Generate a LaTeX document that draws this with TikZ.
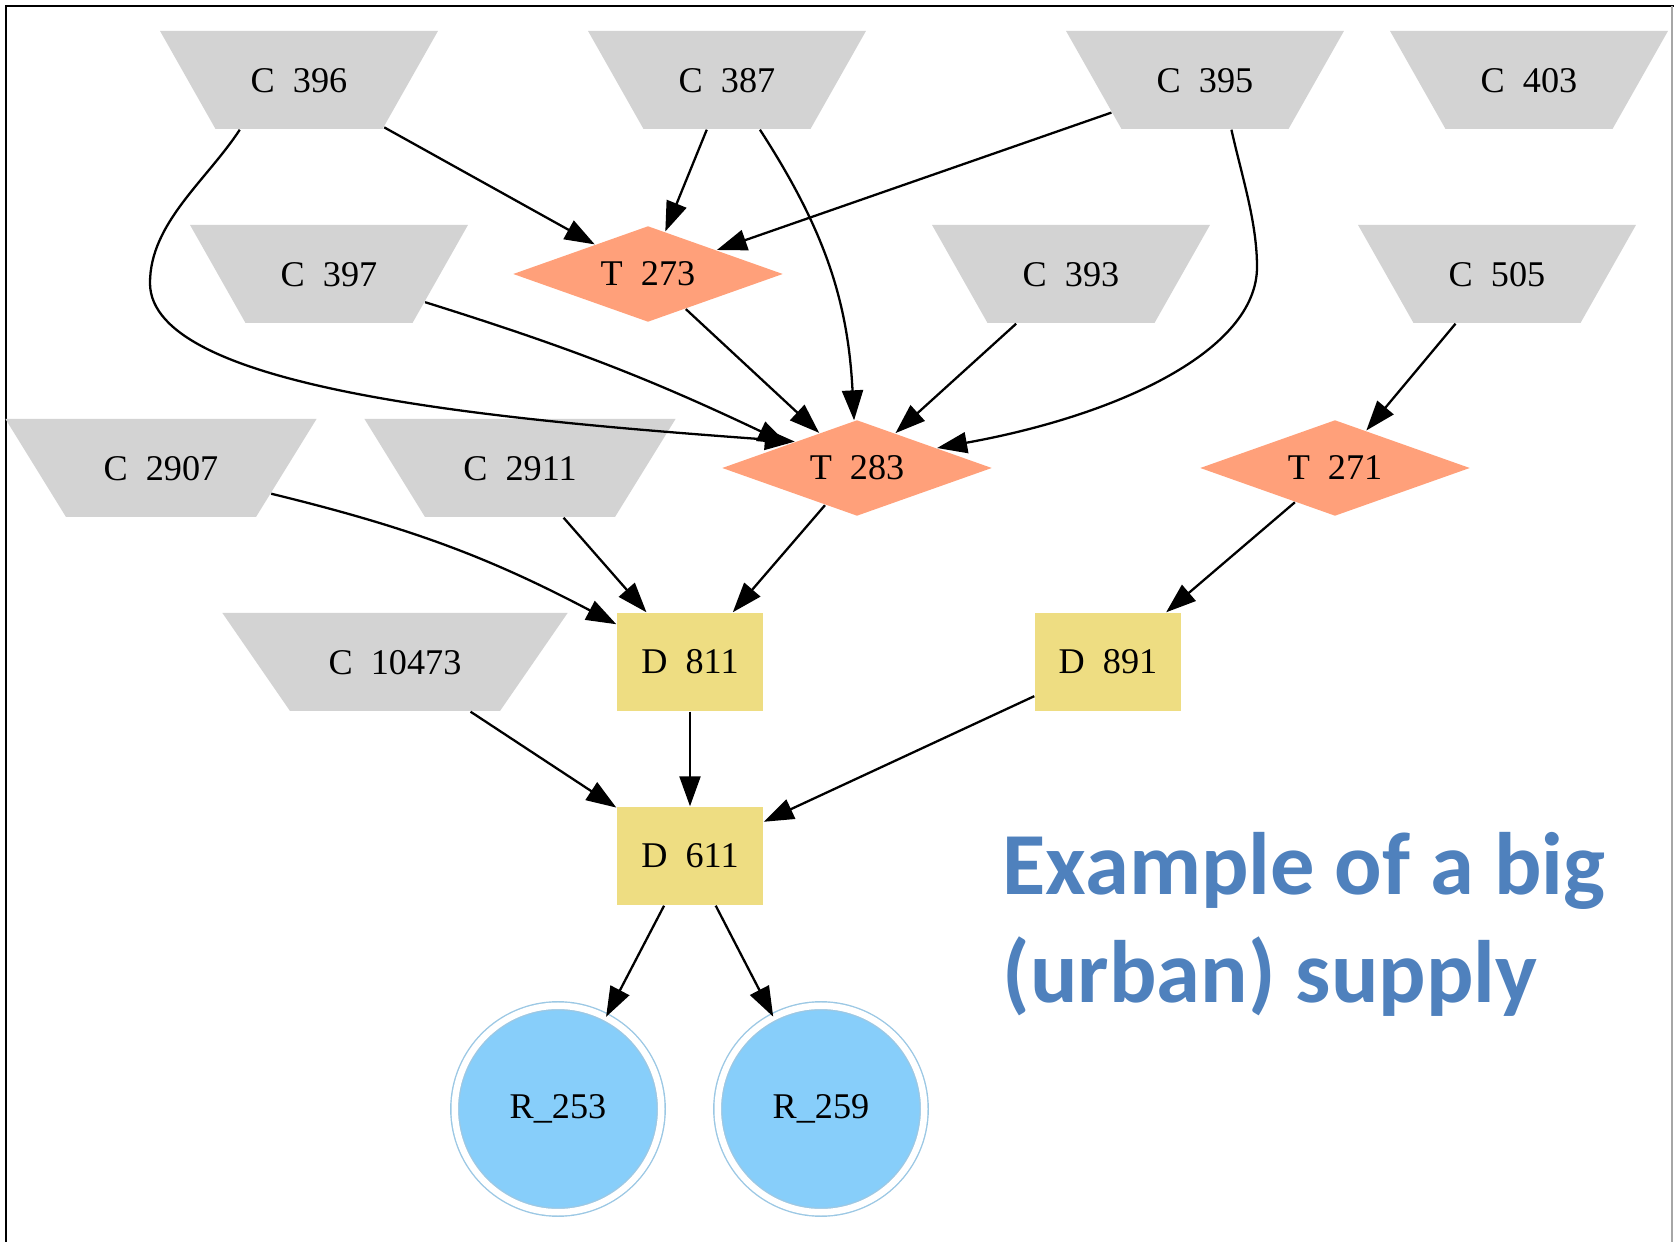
\documentclass[tikz,border=0pt]{standalone}
\usepackage{fontspec}
\setmainfont{Liberation Serif}
\newfontfamily\titlefont{Carlito}
\usetikzlibrary{shapes.geometric,arrows.meta}
\definecolor{cgray}{HTML}{D3D3D3}
\definecolor{tsalmon}{HTML}{FFA07A}
\definecolor{dgold}{HTML}{EEDD82}
\definecolor{rblue}{HTML}{87CEFA}
\definecolor{rring}{HTML}{9CC8E4}
\definecolor{titleblue}{HTML}{4F81BD}
\newcommand{\nodefont}{\fontsize{10.3}{12}\selectfont}
\newcommand{\tipsize}{length=0.3cm,width=0.21cm}
\tikzset{
  cnode/.style={trapezium, shape border rotate=180, trapezium angle=60.5,
    fill=cgray, text width=1.2cm, align=center, text height=0.25cm,
    text depth=0cm, inner xsep=0.235cm, inner ysep=0.365cm, font=\nodefont},
  widecnode/.style={cnode, trapezium angle=58.3, inner xsep=0.35cm},
  widestcnode/.style={cnode, trapezium angle=55.4, text width=1.4cm, inner xsep=0.35cm},
  tnode/.style={diamond, aspect=2.8, fill=tsalmon, minimum width=2.70cm,
    minimum height=0.96cm, inner sep=0pt, font=\nodefont},
  dnode/.style={rectangle, fill=dgold, minimum width=1.46cm,
    minimum height=0.98cm, inner sep=0pt, font=\nodefont},
  rnode/.style={circle, fill=rblue, draw=rring, line width=0.4pt,
    double=white, double distance=0.065cm, minimum size=2.065cm,
    inner sep=0pt, font=\nodefont},
  feed/.style={-{Triangle[\tipsize]}, line width=0.65pt},
}

\begin{document}
\begin{tikzpicture}
\useasboundingbox (0,0) rectangle (16.74,-12.42);
\draw[line width=0.8pt] (0.06,-12.42) -- (0.06,-0.06) -- (16.74,-0.06);
\draw[gray!70] (16.72,-0.06) -- (16.72,-12.42);
%row 1
\node[cnode] (c396) at (2.99, -0.80) {C\enspace 396};
\node[cnode] (c387) at (7.27, -0.80) {C\enspace 387};
\node[cnode] (c395) at (12.05, -0.80) {C\enspace 395};
\node[cnode] (c403) at (15.29, -0.80) {C\enspace 403};
%row 2
\node[cnode] (c397) at (3.29, -2.74) {C\enspace 397};
\node[tnode] (t273) at (6.48, -2.74) {T\enspace 273};
\node[cnode] (c393) at (10.71, -2.74) {C\enspace 393};
\node[cnode] (c505) at (14.97, -2.74) {C\enspace 505};
%row 3
\node[widecnode] (c2907) at (1.61, -4.68) {C\enspace 2907};
\node[widecnode] (c2911) at (5.20, -4.68) {C\enspace 2911};
\node[tnode] (t283) at (8.57, -4.68) {T\enspace 283};
\node[tnode] (t271) at (13.35, -4.68) {T\enspace 271};
%row 4
\node[widestcnode] (c10473) at (3.95, -6.62) {C\enspace 10473};
\node[dnode] (d811) at (6.90, -6.62) {D\enspace 811};
\node[dnode] (d891) at (11.08, -6.62) {D\enspace 891};
%row 5
\node[dnode] (d611) at (6.90, -8.56) {D\enspace 611};
%reservoirs
\node[rnode] (r253) at (5.58, -11.09) {R\_253};
\node[rnode] (r259) at (8.21, -11.09) {R\_259};
%edges
\draw[feed] (c396) -- (t273);
\draw[feed] (c387) -- (t273);
\draw[feed] (c395) -- (t273);
\draw[feed] (c396.-140) .. controls (2.07,-1.80) and (1.50,-2.23) .. (1.50,-2.83)
  .. controls (1.50,-3.90) and (5.00,-4.20) .. (t283.157);
\draw[feed] (c387) to[bend left=15] (t283);
\draw[feed] (c395.-62) .. controls (12.42,-1.77) and (12.57,-2.22) .. (12.57,-2.67)
  .. controls (12.57,-3.50) and (11.20,-4.15) .. (t283.14);
\draw[feed] (c397) to[bend left=4] (t283.161);
\draw[feed] (t273) -- (t283);
\draw[feed] (c393) -- (t283);
\draw[feed] (c505) -- (t271);
\draw[feed] (c2907) to[bend left=7] (d811);
\draw[feed] (c2911) -- (d811);
\draw[feed] (t283) -- (d811);
\draw[feed] (t271) -- (d891);
\draw[feed] (c10473) -- (d611);
\draw[feed] (d811) -- (d611);
\draw[feed] (d891) -- (d611);
\draw[feed] (d611) -- (r253);
\draw[feed] (d611) -- (r259);
%caption
\node[font=\titlefont\bfseries\fontsize{25.2}{30.7}\selectfont, text=titleblue,
  align=left, anchor=base west, inner sep=0pt] (title) at (10.02, -10.02)
  {Example of a big\\(urban) supply};
\end{tikzpicture}
\end{document}
